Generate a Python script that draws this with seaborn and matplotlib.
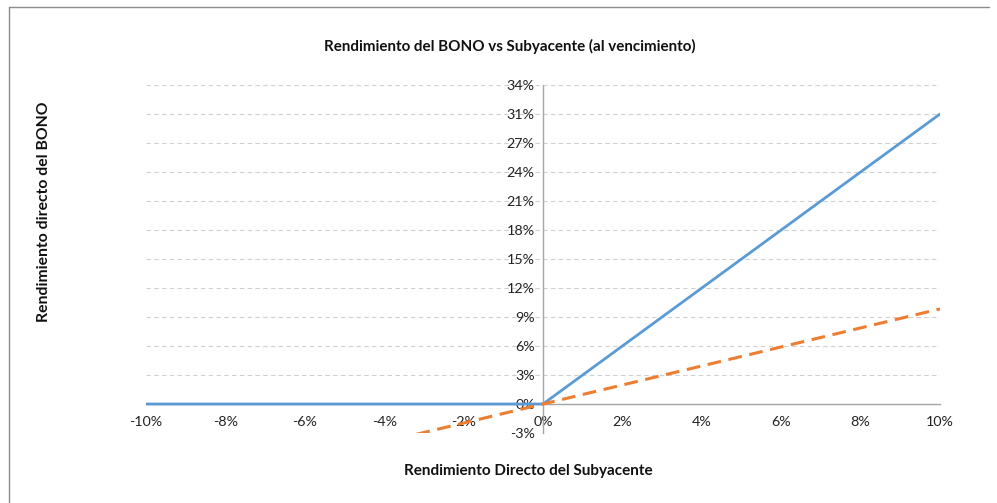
import matplotlib
matplotlib.use("Agg")
import matplotlib.pyplot as plt
import seaborn as sns
import pandas as pd
from matplotlib.lines import Line2D

# Data (fractions)
x_vals = [-0.10, -0.08, -0.06, -0.04, -0.02, 0.0, 0.02, 0.04, 0.06, 0.08, 0.10]
bono = [0.0, 0.0, 0.0, 0.0, 0.0, 0.0, 0.061, 0.122, 0.183, 0.244, 0.305]
subyacente = [-0.10, -0.08, -0.06, -0.04, -0.02, 0.0, 0.02, 0.04, 0.06, 0.08, 0.10]

x_ticks = [-0.10, -0.08, -0.06, -0.04, -0.02, 0.0, 0.02, 0.04, 0.06, 0.08, 0.10]
x_tick_labels = ["-10%", "-8%", "-6%", "-4%", "-2%", "0%", "2%", "4%", "6%", "8%", "10%"]
y_ticks = [-0.0305, 0.0, 0.0305, 0.061, 0.0915, 0.122, 0.1525, 0.183, 0.2135,
           0.244, 0.2745, 0.305, 0.3355]
y_tick_labels = ["-3%", "0%", "3%", "6%", "9%", "12%", "15%", "18%", "21%",
                 "24%", "27%", "31%", "34%"]

df = pd.DataFrame({"x": x_vals, "bono": bono, "sub": subyacente})

sns.set_style("white")
plt.rcParams["font.family"] = ["Lato", "DejaVu Sans"]

W, H = 997, 503
fig = plt.figure(figsize=(W / 100, H / 100), dpi=100)
ax = fig.add_axes([146 / W, (H - 433) / H, (940 - 146) / W, (433 - 85) / H])

# gridlines
for yt in y_ticks:
    ax.axhline(yt, color="#D0D0D0", lw=0.8, ls=(0, (4, 3)), zorder=0)

sns.lineplot(data=df, x="x", y="bono", ax=ax, color="#5B9BD5", lw=2.0,
             zorder=3, clip_on=True)
sns.lineplot(data=df, x="x", y="sub", ax=ax, color="#ED7D31", lw=2.2,
             zorder=3, clip_on=True)
ax.lines[-1].set_dashes([4.5, 2.5])

ax.set_xlim(-0.10, 0.10)
ax.set_ylim(y_ticks[0], y_ticks[-1])

ax.spines["top"].set_visible(False)
ax.spines["right"].set_visible(False)
ax.spines["left"].set_position(("data", 0))
ax.spines["bottom"].set_position(("data", 0))
for s in ("left", "bottom"):
    ax.spines[s].set_color("#A6A6A6")
    ax.spines[s].set_linewidth(1.0)
    ax.spines[s].set_zorder(2)

ax.set_xticks(x_ticks)
ax.set_xticklabels(x_tick_labels)
ax.set_yticks(y_ticks)
ax.set_yticklabels(y_tick_labels)
ax.tick_params(axis="both", which="major", direction="out", length=4,
               width=1.0, color="#A6A6A6", labelsize=10.3, labelcolor="#222222",
               pad=2)
ax.tick_params(axis="x", pad=5)
ax.set_xlabel("")
ax.set_ylabel("")

fig.text(510 / W, 1 - 46 / H, "Rendimiento del BONO vs Subyacente (al vencimiento)",
         ha="center", va="center", fontsize=10.9, fontweight="bold", color="#111111")
fig.text(528 / W, 1 - 471 / H, "Rendimiento Directo del Subyacente",
         ha="center", va="center", fontsize=11.0, fontweight="bold", color="#111111")
fig.text(44 / W, 1 - 212 / H, "Rendimiento directo del BONO", rotation=90,
         ha="center", va="center", fontsize=11.3, fontweight="bold", color="#111111")

# outer border
fig.add_artist(Line2D([9 / W, 9 / W], [0, 1 - 7 / H], transform=fig.transFigure,
                      color="#8C8C8C", lw=1.0))
fig.add_artist(Line2D([9 / W, 989 / W], [1 - 7 / H, 1 - 7 / H], transform=fig.transFigure,
                      color="#8C8C8C", lw=1.0))

fig.savefig("out.png", dpi=100)
